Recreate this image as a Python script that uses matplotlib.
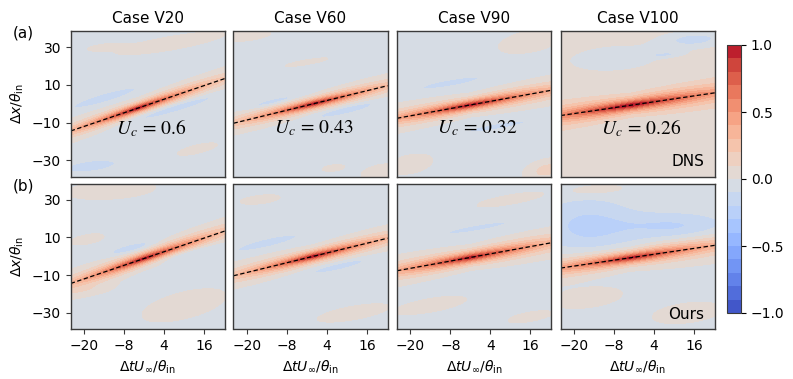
import numpy as np
import matplotlib
matplotlib.use("Agg")
from matplotlib import pyplot as plt

# 案例與對流速度
cases = ["Case V20", "Case V60", "Case V90", "Case V100"]
uc_vals = [0.6, 0.43, 0.32, 0.26]
row_tags = ["DNS", "Ours"]
panel_letters = ["(a)", "(b)"]

xticks = [-20, -8, 4, 16]
yticks = [30, 10, -10, -30]
cbar_ticks = [1.0, 0.5, 0.0, -0.5, -1.0]

# ridge params per panel: x0 (peak), w0 (vertical scale), sw (width growth), L (decay along line)
ridge_dns = [(-4, 2.3, 40, 21), (0, 2.3, 40, 21), (-2, 2.6, 40, 28), (-3, 3.0, 40, 32)]
ridge_ours = [(-2, 2.6, 40, 22), (0, 2.5, 40, 22), (-2, 2.8, 40, 26), (-3, 2.8, 40, 28)]

# background level per panel
bg_dns = [-0.04, -0.04, -0.04, 0.03]
bg_ours = [-0.04, -0.04, -0.04, -0.03]

# weak streaks: (xc, yc, amp, half length, half width, slope)
blobs_dns = [
    [(6, 32, 0.09, 18, 4, 0.3), (-14, 3, -0.14, 10, 2.5, 0.5), (7, -2, -0.15, 14, 2.8, 0.5),
     (-18, -33, -0.13, 8, 3, 0.2), (14, -24, 0.07, 8, 3, 0.4), (-14, 30, 0.07, 6, 2, 0.2)],
    [(-20, 36, 0.09, 8, 3, 0.2), (-12, 1, -0.14, 8, 2, 0.4), (10, -3, -0.14, 10, 2.5, 0.4),
     (20, -36, 0.1, 6, 4, 0.3), (6, -34, 0.08, 4, 2, 0.2), (-2, 22, 0.06, 10, 2, 0.3)],
    [(16, 33, 0.1, 10, 6, 0.3), (-20, -32, 0.08, 8, 6, 0.3), (21, -35, 0.18, 6, 5, 0.3),
     (-8, 11, -0.12, 10, 2, 0.3), (6, -12, -0.1, 12, 2, 0.3)],
    [(16, 34, -0.18, 9, 4, 0.1), (7, 26, -0.14, 5, 1.5, 0.1), (-8, 24, -0.06, 16, 8, 0.1),
     (0, -22, 0.05, 20, 6, 0.2)],
]
blobs_ours = [
    [(-12, 35, 0.1, 14, 5, 0.1), (-19, 9, 0.08, 6, 3, 0.3), (-6, 4, -0.14, 7, 2.5, 0.4),
     (11, 1.5, -0.14, 11, 2.5, 0.4), (10, -26, 0.09, 14, 8, 0.4), (-18, -18, 0.08, 8, 3, 0.3)],
    [(-14, 7, -0.13, 10, 2.5, 0.4), (8, -5, -0.12, 10, 2.5, 0.4), (12, -30, 0.09, 12, 4, 0.3),
     (-16, 30, 0.07, 8, 3, 0.2)],
    [(-14, -26, 0.09, 12, 4, 0.3), (10, 30, 0.08, 12, 3, 0.3), (0, 15, -0.1, 12, 2, 0.3),
     (16, -32, 0.08, 8, 3, 0.3)],
    [(-16, 16, -0.2, 14, 14, 0.0), (10, 16, -0.18, 16, 7, 0.0), (-14, 35, 0.09, 10, 3, 0.1),
     (-16, -22, 0.09, 10, 5, 0.2), (14, -30, 0.09, 10, 5, 0.2)],
]

xg = np.linspace(-24, 22.2, 260)
yg = np.linspace(-38.5, 38.5, 260)
X, Y = np.meshgrid(xg, yg)


def make_field(uc, ridge, bg, blobs):
    x0, w0, sw, L = ridge
    s = X - x0
    dy = Y - uc * X
    w = w0 * (1 + np.abs(s) / sw)
    R = np.exp(-(np.abs(dy) / w) ** 1.3) * np.exp(-(np.abs(s) / L) ** 1.2)
    R = R + bg
    for xc, yc, a, lx, ly, k in blobs:
        u = X - xc
        v = (Y - yc) - k * (X - xc)
        R = R + a * np.exp(-(u / lx) ** 2 - (v / ly) ** 2)
    return np.clip(R, -0.999, 0.999)


levels = np.linspace(-1, 1, 21)
fig = plt.figure(figsize=(7.93, 3.79), dpi=100)
W, H = 793.0, 379.0
lefts = [70.7, 233.5, 397.0, 560.7]
tops = [31.0, 183.5]
aw, ah = 154.0, 145.5

for r in range(2):
    for c in range(4):
        ax = fig.add_axes([lefts[c] / W, 1 - (tops[r] + ah) / H, aw / W, ah / H])
        if r == 0:
            Z = make_field(uc_vals[c], ridge_dns[c], bg_dns[c], blobs_dns[c])
        else:
            Z = make_field(uc_vals[c], ridge_ours[c], bg_ours[c], blobs_ours[c])
        cf = ax.contourf(X, Y, Z, levels=levels, cmap="coolwarm", vmin=-1, vmax=1)
        ax.plot(xg, uc_vals[c] * xg, "k--", lw=0.9, dashes=(3.5, 2))
        ax.set_xlim(-24, 22.2)
        ax.set_ylim(-38.5, 38.5)
        for sp in ax.spines.values():
            sp.set_color("#3a3a3a")
            sp.set_linewidth(1.0)
        ax.set_xticks(xticks)
        ax.set_yticks(yticks)
        ax.tick_params(labelsize=10, length=3.5, color="#3a3a3a")
        if r == 0:
            ax.set_title(cases[c], fontsize=11)
            ax.tick_params(axis="x", bottom=False, labelbottom=False)
            ax.text(0.52, 0.33, r"$U_c\,=\,%s$" % uc_vals[c], transform=ax.transAxes,
                    ha="center", va="center", fontsize=14, math_fontfamily="stix")
        else:
            ax.set_xticklabels(["\u221220", "\u22128", "4", "16"])
            ax.set_xlabel(r"$\Delta tU_\infty/\theta_{\rm in}$", fontsize=10)
        if c == 0:
            ax.set_yticklabels(["30", "10", "\u221210", "\u221230"])
            ax.set_ylabel(r"$\Delta x/\theta_{\rm in}$", fontsize=10)
        else:
            ax.tick_params(axis="y", left=False, labelleft=False)
        if c == 3:
            ax.text(0.93, 0.1, row_tags[r], transform=ax.transAxes, ha="right",
                    va="center", fontsize=11)
    fig.text(13 / W, 1 - (tops[r] + 2) / H, panel_letters[r], fontsize=11,
             ha="left", va="center")

cax = fig.add_axes([727 / W, 1 - 313 / H, 14 / W, 268 / H])
cb = fig.colorbar(cf, cax=cax, ticks=cbar_ticks)
cb.ax.tick_params(labelsize=10, length=3.5)
cb.outline.set_edgecolor("#3a3a3a")
cb.ax.set_yticklabels(["1.0", "0.5", "0.0", "\u22120.5", "\u22121.0"])

fig.savefig("out.png", dpi=100)
